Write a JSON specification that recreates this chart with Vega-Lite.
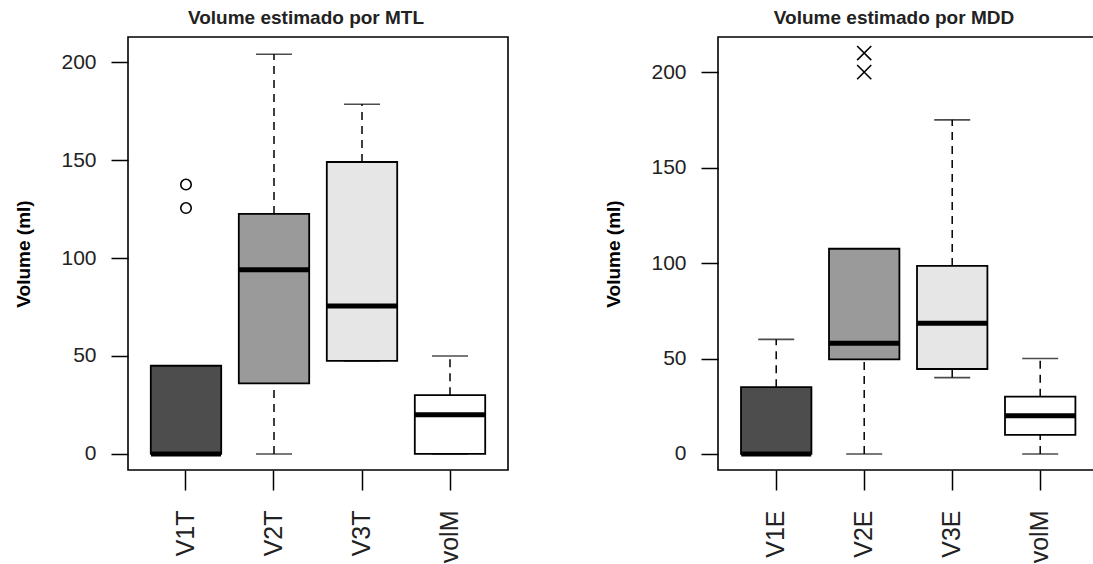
{
  "$schema": "https://vega.github.io/schema/vega-lite/v6.json",
  "background": "white",
  "padding": {"left": 14, "top": 8, "right": 0, "bottom": 0},
  "bounds": "flush",
  "spacing": 210,
  "datasets": {
    "mtl": [
      {"var": "V1T", "lo": 0, "q1": 0, "med": 0, "q3": 45, "hi": 45},
      {"var": "V2T", "lo": 0, "q1": 36, "med": 94, "q3": 122.5, "hi": 204},
      {"var": "V3T", "lo": 47.5, "q1": 47.5, "med": 75.5, "q3": 149, "hi": 178.5},
      {"var": "volM", "lo": 0, "q1": 0, "med": 20, "q3": 30, "hi": 50}
    ],
    "mtl_out": [
      {"var": "V1T", "value": 137.5},
      {"var": "V1T", "value": 125.5}
    ],
    "mdd": [
      {"var": "V1E", "lo": 0, "q1": 0, "med": 0, "q3": 35, "hi": 60},
      {"var": "V2E", "lo": 0, "q1": 49.5, "med": 58, "q3": 107.5, "hi": 107.5},
      {"var": "V3E", "lo": 40, "q1": 44.5, "med": 68.5, "q3": 98.5, "hi": 175},
      {"var": "volM", "lo": 0, "q1": 10, "med": 20, "q3": 30, "hi": 50}
    ],
    "mdd_out": [
      {"var": "V2E", "value": 210},
      {"var": "V2E", "value": 200}
    ]
  },
  "config": {
    "view": {"stroke": "black", "strokeWidth": 1.6},
    "font": "Liberation Sans",
    "axis": {
      "domain": false,
      "grid": false,
      "tickColor": "black",
      "tickWidth": 1.5,
      "labelFont": "Liberation Sans",
      "labelColor": "#222222",
      "titleFont": "Liberation Sans",
      "titleFontWeight": "bold",
      "titleColor": "black"
    },
    "axisY": {"tickSize": 17, "labelFontSize": 21, "labelPadding": 15, "titleFontSize": 19, "titlePadding": 27},
    "axisX": {"tickSize": 20, "labelFontSize": 25, "labelPadding": 20, "labelAngle": -90},
    "title": {"font": "Liberation Sans", "fontSize": 19, "fontWeight": "bold", "color": "#222222", "offset": 9, "dx": -12}
  },
  "resolve": {"scale": {"x": "independent", "y": "independent", "color": "independent"}},
  "hconcat": [
    {
      "width": 380,
      "height": 433,
      "title": "Volume estimado por MTL",
      "encoding": {
        "x": {"field": "var", "type": "nominal", "sort": null,
              "scale": {"domain": ["V1T", "V2T", "V3T", "volM"], "paddingInner": 0.2, "paddingOuter": 0.259, "align": 0.5},
              "axis": {"title": null}}
      },
      "layer": [
        {
          "data": {"name": "mtl"},
          "mark": {"type": "rule", "color": "black", "strokeWidth": 1.5, "strokeDash": [8, 6]},
          "encoding": {
            "y": {"field": "lo", "type": "quantitative",
                  "scale": {"domain": [-8.2, 212.8], "nice": false, "zero": false},
                  "axis": {"title": "Volume (ml)", "values": [0, 50, 100, 150, 200]}},
            "y2": {"field": "q1"}
          }
        },
        {
          "data": {"name": "mtl"},
          "mark": {"type": "rule", "color": "black", "strokeWidth": 1.5, "strokeDash": [8, 6]},
          "encoding": {"y": {"field": "q3", "type": "quantitative"}, "y2": {"field": "hi"}}
        },
        {
          "data": {"name": "mtl"},
          "mark": {"type": "tick", "color": "black", "size": 36, "thickness": 1.6, "orient": "horizontal"},
          "encoding": {"y": {"field": "lo", "type": "quantitative"}}
        },
        {
          "data": {"name": "mtl"},
          "mark": {"type": "tick", "color": "black", "size": 36, "thickness": 1.6, "orient": "horizontal"},
          "encoding": {"y": {"field": "hi", "type": "quantitative"}}
        },
        {
          "data": {"name": "mtl"},
          "mark": {"type": "bar", "stroke": "black", "strokeWidth": 1.8},
          "encoding": {
            "y": {"field": "q1", "type": "quantitative"},
            "y2": {"field": "q3"},
            "color": {"field": "var", "type": "nominal", "legend": null,
                      "scale": {"domain": ["V1T", "V2T", "V3T", "volM"], "range": ["#4d4d4d", "#9a9a9a", "#e6e6e6", "#ffffff"]}}
          }
        },
        {
          "data": {"name": "mtl"},
          "mark": {"type": "tick", "color": "black", "size": 70, "thickness": 5, "orient": "horizontal", "opacity": 1},
          "encoding": {"y": {"field": "med", "type": "quantitative"}}
        },
        {
          "data": {"name": "mtl_out"},
          "mark": {"type": "point", "shape": "circle", "filled": false, "stroke": "black", "strokeWidth": 1.6, "size": 110, "opacity": 1},
          "encoding": {"y": {"field": "value", "type": "quantitative"}}
        }
      ]
    },
    {
      "width": 376,
      "height": 433,
      "title": "Volume estimado por MDD",
      "encoding": {
        "x": {"field": "var", "type": "nominal", "sort": null,
              "scale": {"domain": ["V1E", "V2E", "V3E", "volM"], "paddingInner": 0.2, "paddingOuter": 0.2364, "align": 0.553},
              "axis": {"title": null}}
      },
      "layer": [
        {
          "data": {"name": "mdd"},
          "mark": {"type": "rule", "color": "black", "strokeWidth": 1.5, "strokeDash": [8, 6]},
          "encoding": {
            "y": {"field": "lo", "type": "quantitative",
                  "scale": {"domain": [-8.4, 218.4], "nice": false, "zero": false},
                  "axis": {"title": "Volume (ml)", "values": [0, 50, 100, 150, 200]}},
            "y2": {"field": "q1"}
          }
        },
        {
          "data": {"name": "mdd"},
          "mark": {"type": "rule", "color": "black", "strokeWidth": 1.5, "strokeDash": [8, 6]},
          "encoding": {"y": {"field": "q3", "type": "quantitative"}, "y2": {"field": "hi"}}
        },
        {
          "data": {"name": "mdd"},
          "mark": {"type": "tick", "color": "black", "size": 36, "thickness": 1.6, "orient": "horizontal"},
          "encoding": {"y": {"field": "lo", "type": "quantitative"}}
        },
        {
          "data": {"name": "mdd"},
          "mark": {"type": "tick", "color": "black", "size": 36, "thickness": 1.6, "orient": "horizontal"},
          "encoding": {"y": {"field": "hi", "type": "quantitative"}}
        },
        {
          "data": {"name": "mdd"},
          "mark": {"type": "bar", "stroke": "black", "strokeWidth": 1.8},
          "encoding": {
            "y": {"field": "q1", "type": "quantitative"},
            "y2": {"field": "q3"},
            "color": {"field": "var", "type": "nominal", "legend": null,
                      "scale": {"domain": ["V1E", "V2E", "V3E", "volM"], "range": ["#4d4d4d", "#9a9a9a", "#e6e6e6", "#ffffff"]}}
          }
        },
        {
          "data": {"name": "mdd"},
          "mark": {"type": "tick", "color": "black", "size": 70, "thickness": 5, "orient": "horizontal", "opacity": 1},
          "encoding": {"y": {"field": "med", "type": "quantitative"}}
        },
        {
          "data": {"name": "mdd_out"},
          "mark": {"type": "point", "shape": "M-1,-1L1,1M-1,1L1,-1", "filled": false, "stroke": "black", "strokeWidth": 1.6, "size": 200, "opacity": 1},
          "encoding": {"y": {"field": "value", "type": "quantitative"}}
        }
      ]
    }
  ]
}
